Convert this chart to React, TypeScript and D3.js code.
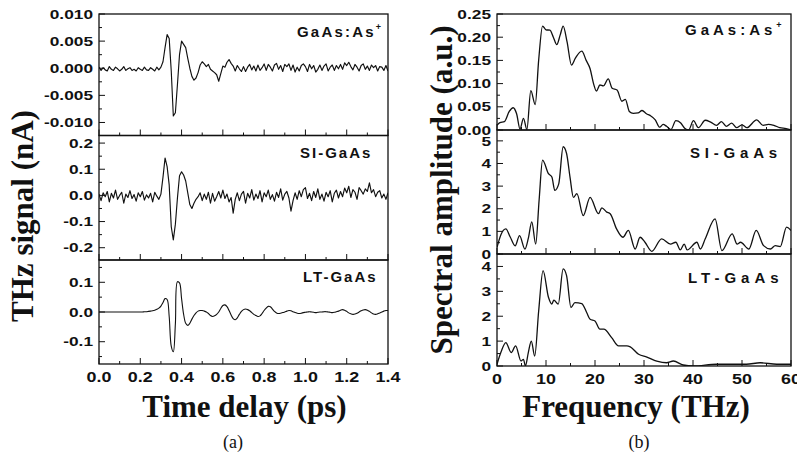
import React from "react";
import * as d3 from "d3";

// ---------------- data ----------------
// time-domain traces sampled every 0.01 ps from 0.00 to 1.40 ps
const TIME_STEP_PS = 0.01;
const timeTicks = [0, 0.2, 0.4, 0.6, 0.8, 1.0, 1.2, 1.4];
const timeTickLabels = ["0.0", "0.2", "0.4", "0.6", "0.8", "1.0", "1.2", "1.4"];
const freqTicks = [0, 10, 20, 30, 40, 50, 60];
const freqTickLabels = ["0", "10", "20", "30", "40", "50", "60"];

// GaAs:As+ THz signal, in units of 1e-4 nA
const AS_UNIT = 1e-4;
const asSignal = [
  2, -4, 1, -3, -5, 3, -2, -4, 2, -1,
  -5, -2, 3, -4, -1, 1, -4, -2, -5, 1,
  -2, -4, 2, -3, -4, 1, -2, -5, 2, -3,
  2, 12, 38, 62, 55, -5, -88, -82, -30, 25,
  50, 44, 38, 18, 0, -15, -22, -18, -8, 6,
  12, 8, 3, 7, -2, -5, -8, -12, -24, -10,
  4, 2, 11, 16, 9, 4, -5, 5, -1, -6,
  3, -6, 2, 7, -3, 4, -5, 6, -4, 1,
  8, -4, 7, 2, -5, 6, 9, -2, 5, -6,
  7, 3, 8, -4, 6, -7, 2, -5, 5, 8,
  3, -6, 7, -1, 5, -7, -2, 6, -4, 4,
  8, -5, 2, 6, -4, 5, -1, 7, -2, 10,
  5, 11, 3, -3, 7, 2, -5, 5, 8, -2,
  4, -4, 6, 1, 5, -5, 3, 2, -4, 5,
  -5,
];

// SI-GaAs THz signal, in units of 1e-3 nA
const SI_UNIT = 1e-3;
const siSignal = [
  5, -20, 10, -5, 15, -25, 8, -10, 20, -15,
  0, 12, -30, 5, -8, 18, -12, 3, -22, 10,
  -5, 15, -18, 2, -10, 8, -25, 12, -3, -15,
  5, 70, 143, 110, 40, -120, -170, -110, -10, 75,
  90, 78, 55, 10, -35, -50, -30, -15, -5, 10,
  -20, 5, -15, 12, -30, 8, -22, -5, 15, -10,
  20, -12, 5, -25, -8, -68, -15, 10, -20, 5,
  15, -30, 8, -10, 22, -18, 5, -12, 18, -25,
  10, -5, 20, -15, 3, -22, 12, -8, 25, -18,
  5, 15, -10, -60, -20, 10, -15, 18, -5, 22,
  30, -12, 8, -20, 15, -8, 25, -15, 5, -22,
  12, -5, 18, -25, 8, 20, -10, 15, -5, 28,
  10, 35, -8, 22, 12, -15, 30, 18, 5, 25,
  15, 48, 10, 22, -5, 12, 18, -10, 5, -15,
  10,
];

// LT-GaAs THz signal, in units of 1e-3 nA
const LT_UNIT = 1e-3;
const ltSignal = [
  0, 0, 0, 0, 0, 0, 0, 0, 0, 0,
  0, 0, 0, 0, 0, 0, 0, 0, 0, 0,
  0, 0, 1, 1, 2, 3, 4, 6, 9, 13,
  20, 32, 45, 42, -15, -115, -134, -40, 102, 98,
  45, -8, -38, -45, -38, -24, -12, -3, 3, 5,
  5, 3, 0, -5, -12, -15, -13, -8, 0, 12,
  22, 24, 18, 5, -10, -22, -26, -20, -8, 2,
  8, 10, 8, 4, -2, -8, -12, -15, -13, -5,
  5, 13, 19, 18, 10, 2, -3, -5, -4, -2,
  0, 3, 5, 4, 1, -2, -4, -5, -4, -2,
  -1, 0, 1, 0, -1, -2, -1, 0, 0, 1,
  1, 0, -1, -2, -1, 1, 3, 6, 8, 6,
  2, -3, -6, -8, -7, -4, 0, 4, 7, 8,
  6, 2, -3, -7, -8, -6, -3, 0, 3, 5,
  5,
];

// Spectral amplitudes (a.u.) vs frequency (THz)
const asFreq = [
  0, 0.6, 1.5, 2.5, 3.3, 4.0, 4.7, 5.4, 6.1, 6.9,
  7.8, 8.5, 9.3, 10.0, 10.8, 11.5, 12.2, 12.9, 13.5, 14.3,
  15.2, 16.0, 17.3, 18.2, 19.0, 19.7, 20.3, 21.0, 21.7, 22.7,
  23.5, 24.5, 25.5, 26.2, 27.0, 27.8, 28.8, 29.6, 30.5, 31.3,
  32.3, 33.2, 33.9, 34.6, 35.5, 36.5, 37.5, 38.3, 39.1, 40.1,
  41.1, 42.5, 43.6, 44.8, 45.8, 46.8, 47.9, 48.9, 50.0, 51.0,
  53.0, 54.3, 55.4, 56.5, 57.7, 59.0, 60,
];
const asAmp = [
  0.010, 0.016, 0.018, 0.040, 0.048, 0.035, 0.002, 0.025, 0.001, 0.085,
  0.055, 0.150, 0.224, 0.216, 0.215, 0.200, 0.184, 0.205, 0.224, 0.190,
  0.140, 0.155, 0.170, 0.150, 0.132, 0.100, 0.084, 0.097, 0.095, 0.110,
  0.090, 0.086, 0.062, 0.066, 0.040, 0.036, 0.037, 0.042, 0.035, 0.031,
  0.022, 0.006, 0.012, 0.008, 0.001, 0.020, 0.015, 0.004, 0.000, 0.020,
  0.005, 0.021, 0.017, 0.010, 0.018, 0.008, 0.015, 0.005, 0.011, 0.005,
  0.022, 0.010, 0.012, 0.010, 0.005, 0.003, 0.000,
];

const siFreq = [
  0, 0.8, 1.8, 2.7, 3.7, 4.6, 5.7, 6.4, 7.1, 7.9,
  8.6, 9.3, 10.5, 11.2, 11.8, 12.6, 13.5, 14.2, 14.9, 15.6,
  16.3, 17.6, 19.0, 20.7, 21.4, 22.4, 23.1, 24.4, 25.7, 26.8,
  28.2, 29.2, 30.2, 31.6, 33.6, 35.4, 36.5, 37.4, 38.2, 38.8,
  40.8, 41.5, 42.5, 44.5, 45.9, 48.0, 49.0, 49.7, 51.4, 52.9,
  54.4, 55.8, 56.8, 57.8, 59.1, 60,
];
const siAmp = [
  0.29, 0.85, 1.11, 0.75, 0.36, 0.81, 0.22, 0.70, 1.42, 0.44,
  2.40, 4.15, 3.55, 3.40, 2.81, 3.10, 4.74, 4.44, 3.40, 2.50,
  2.67, 1.70, 2.50, 1.78, 2.04, 1.85, 1.78, 1.11, 0.74, 1.04,
  0.22, 0.74, 0.52, 0.12, 0.67, 0.44, 0.52, 0.18, 0.44, 0.18,
  0.52, 0.22, 0.67, 1.55, 0.15, 0.89, 0.44, 0.52, 0.22, 1.04,
  0.37, 0.22, 0.37, 0.33, 1.19, 1.04,
];

const ltFreq = [
  0, 0.8, 1.8, 2.9, 3.8, 4.9, 5.4, 5.8, 6.4, 7.0,
  7.7, 8.5, 9.4, 10.5, 11.2, 11.6, 12.5, 13.5, 14.2, 15.1,
  15.9, 17.3, 18.3, 19.0, 20.0, 21.0, 21.8, 23.4, 24.8, 26.5,
  27.2, 28.9, 30.6, 32.6, 34.6, 36.0, 38.0, 40.1, 44.8, 50.9,
  53.7, 57.1, 60,
];
const ltAmp = [
  0.07, 0.55, 0.94, 0.54, 0.81, 0.20, 0.27, 0.00, 0.55, 1.00,
  0.40, 2.20, 3.83, 2.76, 2.49, 2.65, 2.49, 3.90, 3.63, 2.35,
  2.55, 2.51, 2.15, 1.88, 1.81, 1.48, 1.48, 1.14, 0.81, 0.81,
  0.77, 0.47, 0.36, 0.20, 0.13, 0.20, 0.04, 0.00, 0.07, 0.07,
  0.13, 0.07, 0.07,
];

// y-axis ticks
const asTicks = [0.01, 0.005, 0, -0.005, -0.01];
const asTickLabels = ["0.010", "0.005", "0.000", "-0.005", "-0.010"];
const siTicks = [0.2, 0.1, 0, -0.1, -0.2];
const siTickLabels = ["0.2", "0.1", "0.0", "-0.1", "-0.2"];
const ltTicks = [0.1, 0, -0.1];
const ltTickLabels = ["0.1", "0.0", "-0.1"];
const asSpecTicks = [0.25, 0.2, 0.15, 0.1, 0.05, 0];
const asSpecTickLabels = ["0.25", "0.20", "0.15", "0.10", "0.05", "0.00"];
const siSpecTicks = [5, 4, 3, 2, 1, 0];
const siSpecTickLabels = ["5", "4", "3", "2", "1", "0"];
const ltSpecTicks = [4, 3, 2, 1, 0];
const ltSpecTickLabels = ["4", "3", "2", "1", "0"];

const sampleNames = ["GaAs:As", "SI-GaAs", "LT-GaAs"];

// ---------------- layout ----------------
const W = 797;
const H = 456;
const SANS = "'Liberation Sans', Arial, Helvetica, sans-serif";
const SERIF = "'Liberation Serif', 'Times New Roman', Times, serif";
const INK = "#111";

type PanelProps = {
  id: string;
  x0: number;
  x1: number;
  xDomain: [number, number];
  xTicks: number[];
  xMinorStep: number;
  xLabels?: string[];
  top: number;
  bottom: number;
  yDomain: [number, number];
  yTicks: number[];
  yLabels: string[];
  yMinorStep: number;
  xs: number[];
  ys: number[];
  curve: d3.CurveFactory;
  name: string;
  sup?: boolean;
  nameX: number;
  nameY: number;
  nameSpacing: number;
  strokeWidth: number;
};

function StretchText(props: {
  x: number;
  y: number;
  anchor: string;
  size: number;
  sx?: number;
  dy?: string;
  children: React.ReactNode;
}) {
  const { x, y, anchor, size, sx = 1.33, dy, children } = props;
  return (
    <text
      transform={`translate(${x},${y}) scale(${sx},1)`}
      textAnchor={anchor as any}
      dy={dy}
      fontFamily={SANS}
      fontWeight="bold"
      fontSize={size}
      fill={INK}
    >
      {children}
    </text>
  );
}

function Panel(p: PanelProps) {
  const x = d3.scaleLinear().domain(p.xDomain).range([p.x0, p.x1]);
  const y = d3.scaleLinear().domain(p.yDomain).range([p.bottom, p.top]);
  const pts = p.xs.map((v, i) => [v, p.ys[i]] as [number, number]);
  const line = d3
    .line<[number, number]>()
    .x((d) => x(d[0]))
    .y((d) => y(d[1]))
    .curve(p.curve);

  const eps = 1e-9;
  const yMinor = d3
    .range(Math.ceil(p.yDomain[0] / p.yMinorStep - eps) * p.yMinorStep, p.yDomain[1] + eps, p.yMinorStep)
    .filter((v) => !p.yTicks.some((t) => Math.abs(t - v) < p.yMinorStep / 10));
  const xMinor = d3
    .range(p.xDomain[0], p.xDomain[1] + eps, p.xMinorStep)
    .filter((v) => !p.xTicks.some((t) => Math.abs(t - v) < p.xMinorStep / 10));

  const MAJ = 6;
  const MIN = 3;

  return (
    <g>
      <defs>
        <clipPath id={`clip-${p.id}`}>
          <rect x={p.x0} y={p.top} width={p.x1 - p.x0} height={p.bottom - p.top} />
        </clipPath>
      </defs>
      <path
        d={line(pts) || ""}
        fill="none"
        stroke={INK}
        strokeWidth={p.strokeWidth}
        strokeLinejoin="round"
        clipPath={`url(#clip-${p.id})`}
      />
      {p.yTicks.map((t) => (
        <line key={`ym${t}`} x1={p.x0} x2={p.x0 + MAJ} y1={y(t)} y2={y(t)} stroke={INK} strokeWidth={1} />
      ))}
      {yMinor.map((t) => (
        <line key={`yn${t}`} x1={p.x0} x2={p.x0 + MIN} y1={y(t)} y2={y(t)} stroke={INK} strokeWidth={1} />
      ))}
      {p.xTicks.map((t) => (
        <line key={`xm${t}`} x1={x(t)} x2={x(t)} y1={p.bottom} y2={p.bottom - MAJ} stroke={INK} strokeWidth={1} />
      ))}
      {xMinor.map((t) => (
        <line key={`xn${t}`} x1={x(t)} x2={x(t)} y1={p.bottom} y2={p.bottom - MIN} stroke={INK} strokeWidth={1} />
      ))}
      <rect
        x={p.x0}
        y={p.top}
        width={p.x1 - p.x0}
        height={p.bottom - p.top}
        fill="none"
        stroke={INK}
        strokeWidth={1.3}
      />
      {p.yTicks.map((t, i) => (
        <StretchText key={`yl${t}`} x={p.x0 - 6} y={y(t)} dy="0.36em" anchor="end" size={13}>
          {p.yLabels[i]}
        </StretchText>
      ))}
      {p.xLabels &&
        p.xTicks.map((t, i) => (
          <StretchText key={`xl${t}`} x={x(t)} y={p.bottom + 18} anchor="middle" size={14} sx={1.28}>
            {p.xLabels![i]}
          </StretchText>
        ))}
      <text
        x={p.nameX}
        y={p.nameY}
        fontFamily={SANS}
        fontWeight="bold"
        fontSize={15}
        letterSpacing={p.nameSpacing}
        fill={INK}
      >
        {p.name}
        {p.sup && (
          <tspan dy={-7} fontSize={9}>
            +
          </tspan>
        )}
      </text>
    </g>
  );
}

const timeAxis = (n: number) => d3.range(n).map((i) => i * TIME_STEP_PS);

export default function App() {
  const LX0 = 99;
  const LX1 = 388;
  const RX0 = 497;
  const RX1 = 791;
  const tDom: [number, number] = [0, 1.4];
  const fDom: [number, number] = [0, 60];
  return (
    <svg
      width={W}
      height={H}
      viewBox={`0 0 ${W} ${H}`}
      style={{ position: "absolute", left: 0, top: 0, background: "#fff" }}
    >
      <rect x={0} y={0} width={W} height={H} fill="#fff" />

      {/* ---------- (a) time domain ---------- */}
      <Panel
        id="a1" x0={LX0} x1={LX1} xDomain={tDom} xTicks={timeTicks} xMinorStep={0.1}
        top={14} bottom={135.5} yDomain={[-0.0124, 0.01]} yTicks={asTicks} yLabels={asTickLabels} yMinorStep={0.0025}
        xs={timeAxis(asSignal.length)} ys={asSignal.map((v) => v * AS_UNIT)} curve={d3.curveLinear}
        name={sampleNames[0]} sup nameX={297} nameY={36.5} nameSpacing={2.2} strokeWidth={1.15}
      />
      <Panel
        id="a2" x0={LX0} x1={LX1} xDomain={tDom} xTicks={timeTicks} xMinorStep={0.1}
        top={135.5} bottom={260} yDomain={[-0.247, 0.229]} yTicks={siTicks} yLabels={siTickLabels} yMinorStep={0.05}
        xs={timeAxis(siSignal.length)} ys={siSignal.map((v) => v * SI_UNIT)} curve={d3.curveLinear}
        name={sampleNames[1]} nameX={300} nameY={158} nameSpacing={2} strokeWidth={1.15}
      />
      <Panel
        id="a3" x0={LX0} x1={LX1} xDomain={tDom} xTicks={timeTicks} xMinorStep={0.1} xLabels={timeTickLabels}
        top={260} bottom={364} yDomain={[-0.175, 0.175]} yTicks={ltTicks} yLabels={ltTickLabels} yMinorStep={0.05}
        xs={timeAxis(ltSignal.length)} ys={ltSignal.map((v) => v * LT_UNIT)} curve={d3.curveCatmullRom}
        name={sampleNames[2]} nameX={303} nameY={282} nameSpacing={2} strokeWidth={1.1}
      />

      {/* ---------- (b) spectra ---------- */}
      <Panel
        id="b1" x0={RX0} x1={RX1} xDomain={fDom} xTicks={freqTicks} xMinorStep={5}
        top={14} bottom={130} yDomain={[0, 0.25]} yTicks={asSpecTicks} yLabels={asSpecTickLabels} yMinorStep={0.025}
        xs={asFreq} ys={asAmp} curve={d3.curveMonotoneX}
        name={sampleNames[0]} sup nameX={685} nameY={35} nameSpacing={4} strokeWidth={1.3}
      />
      <Panel
        id="b2" x0={RX0} x1={RX1} xDomain={fDom} xTicks={freqTicks} xMinorStep={5}
        top={130} bottom={254} yDomain={[0, 5.48]} yTicks={siSpecTicks} yLabels={siSpecTickLabels} yMinorStep={0.5}
        xs={siFreq} ys={siAmp} curve={d3.curveMonotoneX}
        name={sampleNames[1]} nameX={690} nameY={158} nameSpacing={4.8} strokeWidth={1.3}
      />
      <Panel
        id="b3" x0={RX0} x1={RX1} xDomain={fDom} xTicks={freqTicks} xMinorStep={5} xLabels={freqTickLabels}
        top={254} bottom={366} yDomain={[0, 4.5]} yTicks={ltSpecTicks} yLabels={ltSpecTickLabels} yMinorStep={0.5}
        xs={ltFreq} ys={ltAmp} curve={d3.curveMonotoneX}
        name={sampleNames[2]} nameX={688} nameY={283} nameSpacing={5} strokeWidth={1.3}
      />

      {/* axis titles */}
      <text
        transform="translate(33,216) rotate(-90)"
        textAnchor="middle"
        fontFamily={SERIF}
        fontWeight="bold"
        fontSize={31}
        fill={INK}
      >
        THz signal (nA)
      </text>
      <text
        transform="translate(452,190) rotate(-90)"
        textAnchor="middle"
        fontFamily={SERIF}
        fontWeight="bold"
        fontSize={31}
        fill={INK}
      >
        Spectral amplitude (a.u.)
      </text>
      <text x={244.5} y={417} textAnchor="middle" fontFamily={SERIF} fontWeight="bold" fontSize={31} fill={INK}>
        Time delay (ps)
      </text>
      <text x={636} y={417} textAnchor="middle" fontFamily={SERIF} fontWeight="bold" fontSize={31} fill={INK}>
        Frequency (THz)
      </text>
      <text x={233} y={448} textAnchor="middle" fontFamily={SERIF} fontSize={18} fill={INK}>
        (a)
      </text>
      <text x={639} y={448} textAnchor="middle" fontFamily={SERIF} fontSize={18} fill={INK}>
        (b)
      </text>
    </svg>
  );
}
